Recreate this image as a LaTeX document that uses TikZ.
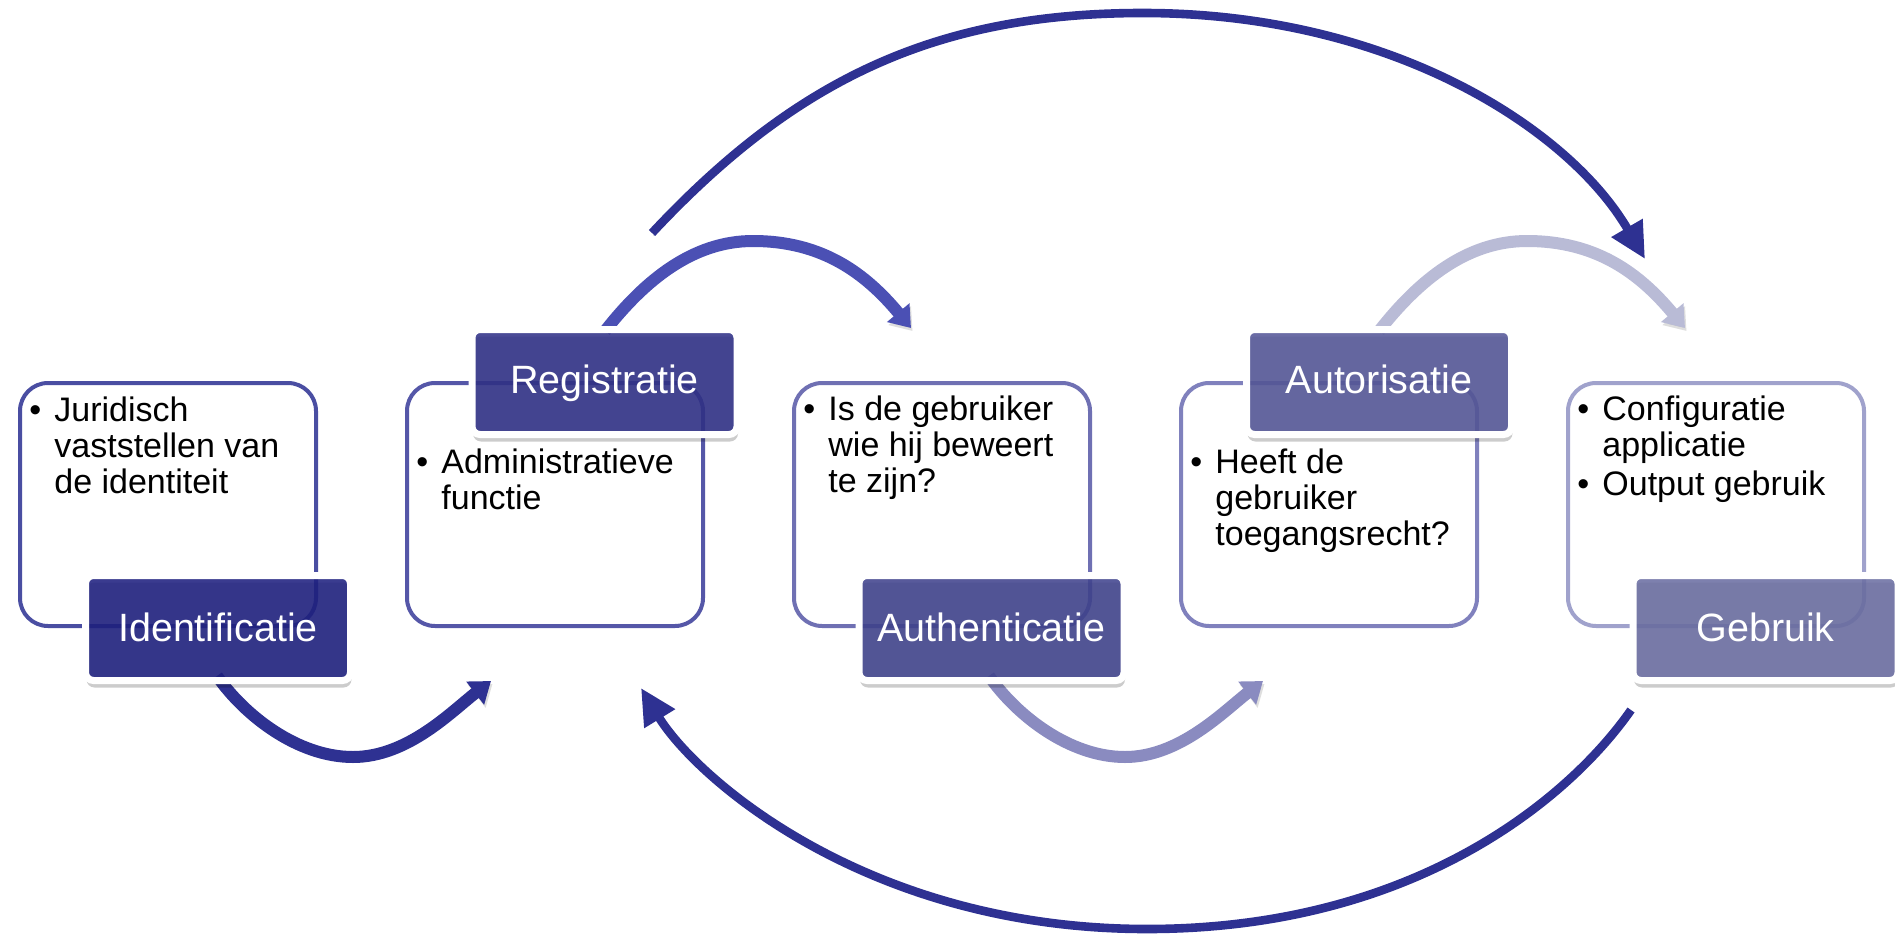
\documentclass[tikz,border=0pt]{standalone}
\usepackage{fontspec}
\setmainfont{Liberation Sans}
\usetikzlibrary{arrows.meta,shadows}

\definecolor{boxA}{HTML}{4A4EA2}
\definecolor{boxB}{HTML}{5557A8}
\definecolor{boxC}{HTML}{6F70B3}
\definecolor{boxD}{HTML}{8081BD}
\definecolor{boxE}{HTML}{A0A2CC}
\definecolor{labA}{HTML}{1F2180}
\definecolor{labB}{HTML}{313288}
\definecolor{labC}{HTML}{41448E}
\definecolor{labD}{HTML}{565899}
\definecolor{labE}{HTML}{6C6FA3}
\definecolor{arcA}{HTML}{2E3192}
\definecolor{arcB}{HTML}{4B50B4}
\definecolor{arcC}{HTML}{8A8BC0}
\definecolor{arcD}{HTML}{B9BBD6}
\definecolor{arcBig}{HTML}{2E3192}

\tikzset{
  contentbox/.style={draw=#1, line width=2pt, rounded corners=14pt, fill=white,
    minimum width=148pt, minimum height=121.5pt, inner sep=0pt},
  labelbox/.style={fill=#1, fill opacity=0.88, text opacity=1, draw=white, draw opacity=1,
    line width=3.5pt, rounded corners=4pt, minimum width=132.5pt, minimum height=52.5pt,
    inner sep=0pt, text=white, font=\fontsize{19.75pt}{22pt}\selectfont, text height=14.5pt,
    drop shadow={shadow xshift=0.5pt, shadow yshift=-3.5pt, opacity=0.2, fill=black}},
  botlabel/.style={labelbox=#1, text depth=1pt},
  toplabel/.style={labelbox=#1, text depth=3.5pt},
  contenttext/.style={anchor=base west, inner sep=0pt, font=\fontsize{17pt}{18pt}\selectfont},
  arcshadow/.style={preaction={draw=black, opacity=0.13, transform canvas={xshift=0.75pt, yshift=-1.5pt}}},
  smallarc/.style={draw=#1, line width=6pt, arcshadow, -{Triangle[length=10pt, width=14pt]}},
  bigarc/.style={draw=#1, line width=4.3pt, arcshadow, -{Triangle[length=18pt, width=17pt]}}
}

\begin{document}
\begin{tikzpicture}[x=0.5pt, y=-0.5pt]
\useasboundingbox (0,0) rectangle (1895,937);

% content boxes
\node[contentbox=boxA] (b1) at (168,504.5) {};
\node[contentbox=boxB] (b2) at (555,504.5) {};
\node[contentbox=boxC] (b3) at (942,504.5) {};
\node[contentbox=boxD] (b4) at (1329,504.5) {};
\node[contentbox=boxE] (b5) at (1716,504.5) {};

% content texts
\node[contenttext] (t1) at (29,421) {\begin{tabular}[t]{@{}p{12.5pt}@{}l@{}}•&Juridisch\\&vaststellen van\\&de identiteit\end{tabular}};
\node[contenttext] (t2) at (416,473) {\begin{tabular}[t]{@{}p{12.5pt}@{}l@{}}•&Administratieve\\&functie\end{tabular}};
\node[contenttext] (t3) at (803,420) {\begin{tabular}[t]{@{}p{12.5pt}@{}l@{}}•&Is de gebruiker\\&wie hij beweert\\&te zijn?\end{tabular}};
\node[contenttext] (t4) at (1190,473) {\begin{tabular}[t]{@{}p{12.5pt}@{}l@{}}•&Heeft de\\&gebruiker\\&toegangsrecht?\end{tabular}};
\node[contenttext] (t5) at (1577,420) {\begin{tabular}[t]{@{}p{12.5pt}@{}l@{}}•&Configuratie\\&applicatie\\[1.5pt]•&Output gebruik\end{tabular}};

% arc end points
\coordinate (aS) at (217,676);  \coordinate (aM) at (353,757);  \coordinate (aE) at (491,681);
\coordinate (bS) at (605,331);  \coordinate (bM) at (753,241);  \coordinate (bE) at (911,328);
\coordinate (cS) at (989,676);  \coordinate (cM) at (1125,757); \coordinate (cE) at (1263,681);
\coordinate (dS) at (1379,331); \coordinate (dM) at (1527,241); \coordinate (dE) at (1685,328);
\coordinate (tS) at (652,233);  \coordinate (tM) at (1143,13);  \coordinate (tE) at (1645,259);
\coordinate (uS) at (1631,710); \coordinate (uM) at (1147,929); \coordinate (uE) at (641,688);

% small arcs
\draw[smallarc=arcA] (aS) .. controls (245,716) and (298,757) .. (aM)
                          .. controls (408,757) and (452,711) .. (aE);
\draw[smallarc=arcB] (bS) .. controls (645,280) and (693,241) .. (bM)
                          .. controls (823,241) and (866,274) .. (bE);
\draw[smallarc=arcC] (cS) .. controls (1017,716) and (1070,757) .. (cM)
                          .. controls (1180,757) and (1224,711) .. (cE);
\draw[smallarc=arcD] (dS) .. controls (1419,280) and (1467,241) .. (dM)
                          .. controls (1597,241) and (1640,274) .. (dE);

% big arcs
\draw[bigarc=arcBig] (tS) .. controls (795,80) and (935,13) .. (tM)
                          .. controls (1393,13) and (1570,130) .. (tE);
\draw[bigarc=arcBig] (uS) .. controls (1571,796) and (1417,929) .. (uM)
                          .. controls (867,929) and (696,778) .. (uE);

% labels
\node[botlabel=labA] (l1) at (218,628) {Identificatie};
\node[toplabel=labB] (l2) at (604.5,382) {Registratie};
\node[botlabel=labC] (l3) at (991.5,628) {Authenticatie};
\node[toplabel=labD] (l4) at (1379,382) {Autorisatie};
\node[botlabel=labE] (l5) at (1765.5,628) {Gebruik};
\end{tikzpicture}
\end{document}
